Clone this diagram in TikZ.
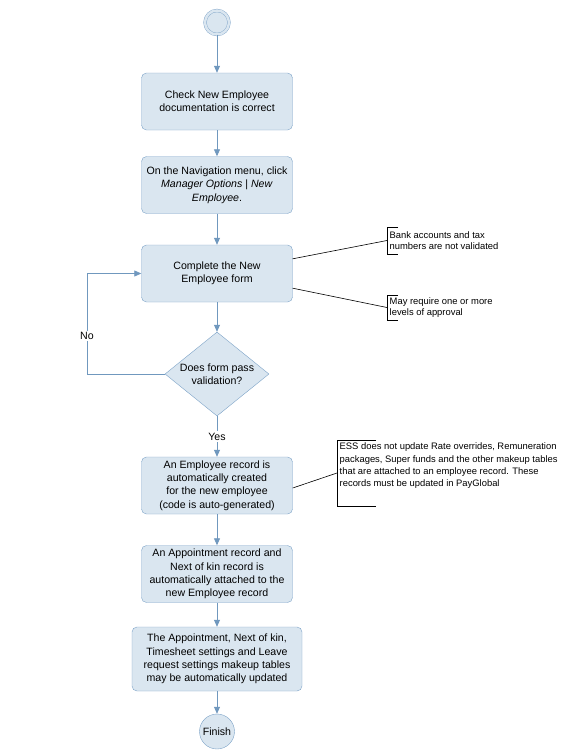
\documentclass[tikz,border=0pt]{standalone}
\usepackage{fontspec}
\setmainfont{Liberation Sans}
\usetikzlibrary{shapes.geometric, arrows.meta}
\definecolor{boxfill}{RGB}{218,230,240}
\definecolor{boxline}{RGB}{124,162,199}
\definecolor{flowline}{RGB}{112,152,190}
\tikzset{
	activity/.style={
		draw=boxline,
		fill=boxfill,
		rounded corners=5pt,
		minimum width=151pt,
		minimum height=57pt,
		align=center,
		inner sep=2pt,
		font=\fontsize{10.6}{13.3}\selectfont
	},
	decision/.style={
		draw=boxline,
		fill=boxfill,
		diamond,
		aspect=1.24,
		inner sep=0pt,
		minimum width=104pt,
		minimum height=84pt,
		align=center,
		font=\fontsize{10.6}{13.3}\selectfont
	},
	note/.style={
		anchor=west,
		align=left,
		inner sep=2.5pt,
		font=\fontsize{9.4}{10.6}\selectfont
	}
}

\begin{document}
\begin{tikzpicture}[x=1pt, y=-1pt]
	\tikzset{edge/.style={-{Triangle[length=7pt,width=6pt]}, draw=flowline, thick}}
	\tikzset{link/.style={draw=black, semithick}}
	\tikzset{bracket/.style={draw=black, semithick}}
	\tikzset{lbl/.style={fill=white, inner sep=1.5pt, font=\fontsize{10.6}{13.3}\selectfont}}
	
	\useasboundingbox (0,0) rectangle (566,756);
	
	\node(start) at (217,22.5) [circle, draw=boxline, fill=boxfill, double=boxfill, double distance=2.5pt, minimum size=24pt, inner sep=0pt] {};
	
	\node(check) at (217,101.5) [activity] {Check New Employee\\documentation is correct};
	\node(menu) at (217,185) [activity] {On the Navigation menu, click\\\textit{Manager Options} | \textit{New}\\\textit{Employee}.};
	\node(form) at (217,273.5) [activity] {Complete the New\\Employee form};
	
	\node(valid) at (217,374) [decision] {Does form pass\\validation?};
	
	\node(record) at (217,485.5) [activity] {An Employee record is\\automatically created\\for the new employee\\(code is auto-generated)};
	\node(appoint) at (217,574) [activity] {An Appointment record and\\Next of kin record is\\automatically attached to the\\new Employee record};
	\node(tables) at (217,659) [activity, minimum width=170pt, minimum height=64pt] {The Appointment, Next of kin,\\Timesheet settings and Leave\\request settings makeup tables\\may be automatically updated};
	
	\node(finish) at (217,731.5) [circle, draw=boxline, fill=boxfill, minimum size=35pt, inner sep=0pt, font=\fontsize{10.6}{13.3}\selectfont] {Finish};
	
	% notes
	\node(bank) at (387,240.5) [note, minimum height=27pt] {Bank accounts and tax\\numbers are not validated};
	\node(approve) at (387,307.5) [note, minimum height=25pt] {May require one or more\\levels of approval};
	\node(ess) at (337,473) [note, minimum height=66pt] {\parbox[c][60pt][t]{222pt}{\fontsize{9.4}{12.2}\selectfont ESS does not update Rate overrides, Remuneration\\packages, Super funds and the other makeup tables\\that are attached to an employee record. These\\records must be updated in PayGlobal}};
	
	\coordinate(loop) at (87,273.5);
	
	\draw[edge] (start) -- (check);
	\draw[edge] (check) -- (menu);
	\draw[edge] (menu) -- (form);
	\draw[edge] (form) -- (valid);
	\draw[edge] (valid) -- node[lbl] {Yes} (record);
	\draw[edge] (valid.west) -| node[lbl, pos=0.69] {No} (loop) -- (form.west);
	\draw[edge] (record) -- (appoint);
	\draw[edge] (appoint) -- (tables);
	\draw[edge] (tables) -- (finish);
	
	\draw[bracket] ([xshift=11pt]bank.north west) -- (bank.north west) -- (bank.south west) -- ([xshift=11pt]bank.south west);
	\draw[bracket] ([xshift=11pt]approve.north west) -- (approve.north west) -- (approve.south west) -- ([xshift=11pt]approve.south west);
	\draw[bracket] ([xshift=39pt]ess.north west) -- (ess.north west) -- (ess.south west) -- ([xshift=39pt]ess.south west);
	
	\draw[link] ([yshift=-14pt]form.north east) -- (bank.west);
	\draw[link] ([yshift=14pt]form.south east) -- (approve.west);
	\draw[link] ([yshift=-2.5pt]record.east) -- (ess.west);
	
\end{tikzpicture}
\end{document}
